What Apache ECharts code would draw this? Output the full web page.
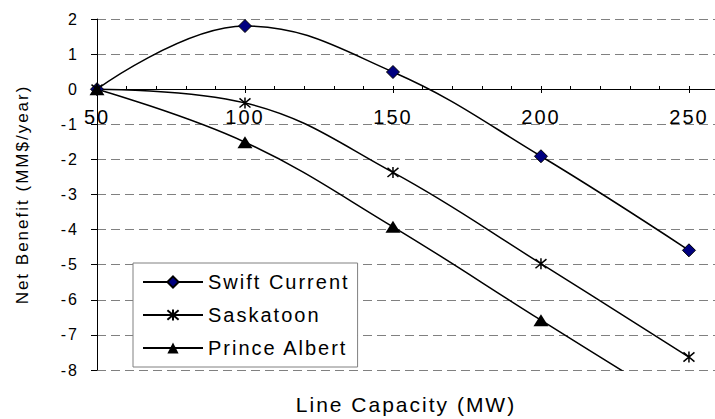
<!DOCTYPE html>
<html>
<head>
<meta charset="utf-8">
<script src="https://cdn.jsdelivr.net/npm/echarts@6/dist/echarts.min.js"></script>
<style>
  html, body { margin: 0; padding: 0; background: #fff; }
  #chart { width: 715px; height: 419px; }
  #chart text { letter-spacing: 2px; }
</style>
</head>
<body>
<div id="chart"></div>
<script>
// Data
const capacity = [50, 100, 150, 200, 250];
const swiftCurrent = [0, 1.80, 0.49, -1.91, -4.59];
const saskatoon = [0, -0.39, -2.37, -4.97, -7.63];
const princeAlbert = [0, -1.51, -3.92, -6.58, -9.2];
const seriesNames = ['Swift Current', 'Saskatoon', 'Prince Albert'];
const xTitle = 'Line Capacity (MW)';
const yTitle = 'Net Benefit (MM$/year)';

const FONT = 'Liberation Sans, Arial, sans-serif';
const pairs = ys => capacity.map((x, i) => [x, ys[i]]);
const asterisk = 'path://M0,0L10,10M10,0L0,10M5,-1L5,11';
// the x axis crosses the value axis at 0: 2 -> 19px, -8 -> 370px
const ZERO_OFFSET = -281;
const SMOOTH = 0.4;

const chart = echarts.init(document.getElementById('chart'), null, { renderer: 'svg' });
chart.setOption({
  animation: false,
  backgroundColor: '#fff',
  grid: { left: 97, right: 0, top: 19, bottom: 49, containLabel: false, outerBoundsMode: 'none' },
  legend: {
    orient: 'vertical',
    left: 133, top: 263,
    padding: [9, 34, 9, 9],
    itemGap: 13,
    itemWidth: 60, itemHeight: 14,
    backgroundColor: '#fff',
    borderColor: '#808080', borderWidth: 1,
    textStyle: { fontFamily: FONT, fontSize: 20, color: '#000' },
    data: seriesNames
  },
  xAxis: [{
    type: 'value', min: 50, max: 258.8, interval: 50,
    position: 'bottom', offset: ZERO_OFFSET,
    axisLine: { onZero: false, lineStyle: { color: '#000', width: 1 } },
    axisTick: { show: true, inside: false, length: 4, lineStyle: { color: '#000' } },
    axisLabel: { showMaxLabel: false, margin: 18, fontFamily: FONT, fontSize: 20, color: '#000' },
    splitLine: { show: false },
    name: xTitle, nameLocation: 'middle', nameGap: 305,
    nameTextStyle: { fontFamily: FONT, fontSize: 21, color: '#000' }
  }, {
    type: 'value', min: 50, max: 258.8, interval: 10,
    position: 'bottom', offset: ZERO_OFFSET,
    axisLine: { show: false, onZero: false },
    axisTick: { show: true, inside: true, length: 3, lineStyle: { color: '#000' } },
    axisLabel: { show: false },
    splitLine: { show: false }
  }],
  yAxis: {
    type: 'value', min: -8, max: 2, interval: 1,
    axisLine: { show: true, onZero: false, lineStyle: { color: '#000', width: 1 } },
    axisTick: { show: true, length: 6, lineStyle: { color: '#000' } },
    axisLabel: { margin: 18, fontFamily: FONT, fontSize: 16, color: '#000' },
    splitLine: { show: true, lineStyle: { color: '#808080', type: [9, 5], width: 1 } },
    name: yTitle, nameLocation: 'middle', nameGap: 66, nameRotate: 90,
    nameTextStyle: { fontFamily: FONT, fontSize: 17, color: '#000' }
  },
  series: [{
    name: seriesNames[0], type: 'line', smooth: SMOOTH, clip: true,
    data: pairs(swiftCurrent),
    symbol: 'diamond', symbolSize: 13,
    lineStyle: { color: '#000', width: 1.5 },
    itemStyle: { color: '#000080', borderColor: '#000', borderWidth: 1 }
  }, {
    name: seriesNames[1], type: 'line', smooth: SMOOTH, clip: true,
    data: pairs(saskatoon),
    symbol: asterisk, symbolSize: 11,
    lineStyle: { color: '#000', width: 1.5 },
    itemStyle: { color: 'none', borderColor: '#000', borderWidth: 1.5 }
  }, {
    name: seriesNames[2], type: 'line', smooth: SMOOTH, clip: true,
    data: pairs(princeAlbert),
    symbol: 'triangle', symbolSize: [15, 12],
    lineStyle: { color: '#000', width: 1.5 },
    itemStyle: { color: '#000', borderColor: '#000', borderWidth: 0 }
  }]
});
</script>
</body>
</html>
